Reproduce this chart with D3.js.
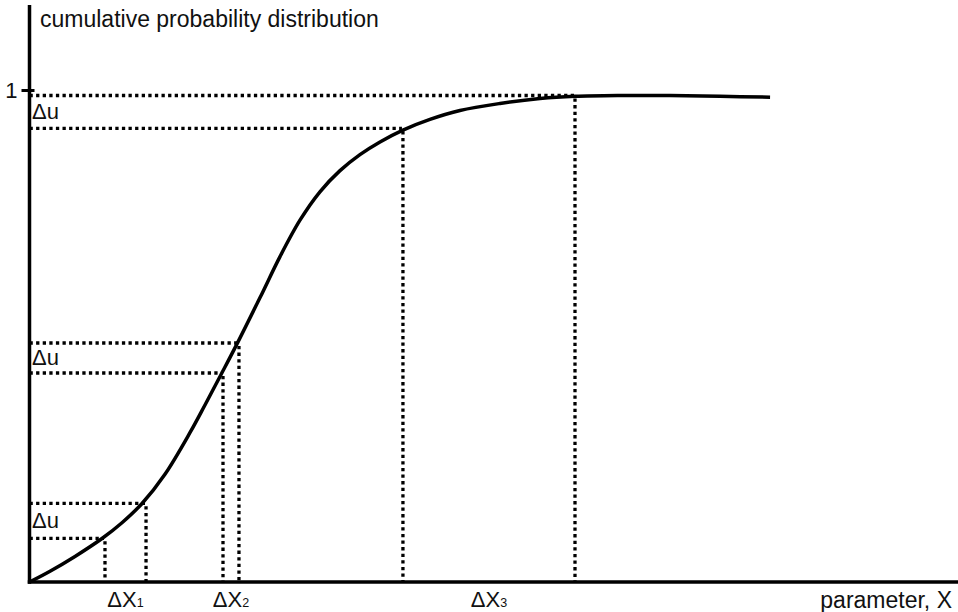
<!DOCTYPE html>
<html>
<head>
<meta charset="utf-8">
<script src="https://cdn.jsdelivr.net/npm/d3@7"></script>
<style>
  html, body { margin: 0; padding: 0; background: #fff; }
  svg { display: block; }
  text { font-family: Arial, "Liberation Sans", Helvetica, sans-serif; fill: #111; }
</style>
</head>
<body>
<svg id="chart" width="958" height="612"></svg>
<script>
// ---- data ----
const curveX = [0, 0.221, 0.490, 0.781, 0.996, 1.212, 1.459, 1.728, 1.890, 2.062, 2.235, 2.483, 2.698, 2.913, 3.128, 3.344, 3.559, 3.775, 4.022, 4.313, 4.636, 5.067, 5.498, 5.875, 6.360, 6.898, 7.437, 7.976];
const curveU = [0, 0.0222, 0.0526, 0.0894, 0.1218, 0.1614, 0.2216, 0.3069, 0.3639, 0.4261, 0.4894, 0.5846, 0.6689, 0.7437, 0.8021, 0.8456, 0.8785, 0.9046, 0.9289, 0.9509, 0.9692, 0.9836, 0.9938, 0.9984, 1.0000, 0.9998, 0.9984, 0.9965];
const markX = [0.813, 1.255, 2.084, 2.256, 4.022, 5.875];        // vertical dotted lines
const markU = [0.0898, 0.1618, 0.4296, 0.4913, 0.9326, 1.0];     // horizontal dotted lines
const intervalLabels = ["ΔX", "ΔX", "ΔX"];
const intervalSubs = ["1", "2", "3"];
const deltaULabel = "Δu";
const yTicks = [1];
const yTickLabels = ["1"];
const yTitle = "cumulative probability distribution";
const xTitle = "parameter, X";

// ---- layout ----
const svg = d3.select("#chart");
const x = d3.scaleLinear().domain([0, 10]).range([29.5, 958]);
const y = d3.scaleLinear().domain([0, 1]).range([582, 95.5]);

// dotted guide lines
const guides = svg.append("g")
  .attr("stroke", "#000").attr("stroke-width", 3.3)
  .attr("stroke-dasharray", "3.3,3.3").attr("fill", "none");

markX.forEach((mx, i) => {
  const mu = markU[i];
  guides.append("line")
    .attr("x1", x(0)).attr("x2", x(mx) - 1)
    .attr("y1", y(mu)).attr("y2", y(mu));
  guides.append("line")
    .attr("x1", x(mx)).attr("x2", x(mx))
    .attr("y1", y(mu) + 3).attr("y2", y(0));
});

// curve
const line = d3.line()
  .x((d, i) => x(curveX[i]))
  .y((d, i) => y(curveU[i]))
  .curve(d3.curveCatmullRom.alpha(0.5));
svg.append("path")
  .datum(curveX)
  .attr("d", line)
  .attr("fill", "none")
  .attr("stroke", "#000")
  .attr("stroke-width", 3.5)
  .attr("stroke-linecap", "butt");

// axes
svg.append("line")
  .attr("x1", x(0)).attr("x2", x(0))
  .attr("y1", 5).attr("y2", y(0) + 1.75)
  .attr("stroke", "#000").attr("stroke-width", 3.5);
svg.append("line")
  .attr("x1", x(0) - 1.75).attr("x2", 958)
  .attr("y1", y(0)).attr("y2", y(0))
  .attr("stroke", "#000").attr("stroke-width", 3.5);

const yAxis = d3.axisLeft(y).tickValues(yTicks).tickFormat((d, i) => yTickLabels[i]).tickSize(0);
const ya = svg.append("g").attr("transform", `translate(${x(0)},0)`).call(yAxis);
ya.select(".domain").remove();
ya.selectAll(".tick").attr("transform", d => `translate(0,${y(d) - 5})`);
ya.selectAll(".tick").append("line")
  .attr("x1", -8).attr("x2", 5).attr("stroke", "#000").attr("stroke-width", 3);
ya.selectAll(".tick text")
  .attr("x", -12).attr("dy", "0.36em")
  .style("font-size", "22px").style("font-family", "Arial, 'Liberation Sans', sans-serif")
  .attr("fill", "#111");

// titles
svg.append("text").attr("x", 40).attr("y", 27)
  .style("font-size", "23px").text(yTitle);
svg.append("text").attr("x", 952).attr("y", 608).attr("text-anchor", "end")
  .style("font-size", "23px").text(xTitle);

// Δu labels
for (let k = 0; k < 3; k++) {
  const lo = markU[2 * k], hi = markU[2 * k + 1];
  svg.append("text")
    .attr("x", 32)
    .attr("y", (y(lo) + y(hi)) / 2 + 7.5)
    .style("font-size", "22px")
    .text(deltaULabel);
}

// ΔX labels
for (let k = 0; k < 3; k++) {
  const cx = (x(markX[2 * k]) + x(markX[2 * k + 1])) / 2;
  const t = svg.append("text")
    .attr("x", cx).attr("y", 607)
    .attr("text-anchor", "middle")
    .style("font-size", "22px");
  t.append("tspan").text(intervalLabels[k]);
  t.append("tspan").style("font-size", "12.5px").text(intervalSubs[k]);
}
</script>
</body>
</html>
